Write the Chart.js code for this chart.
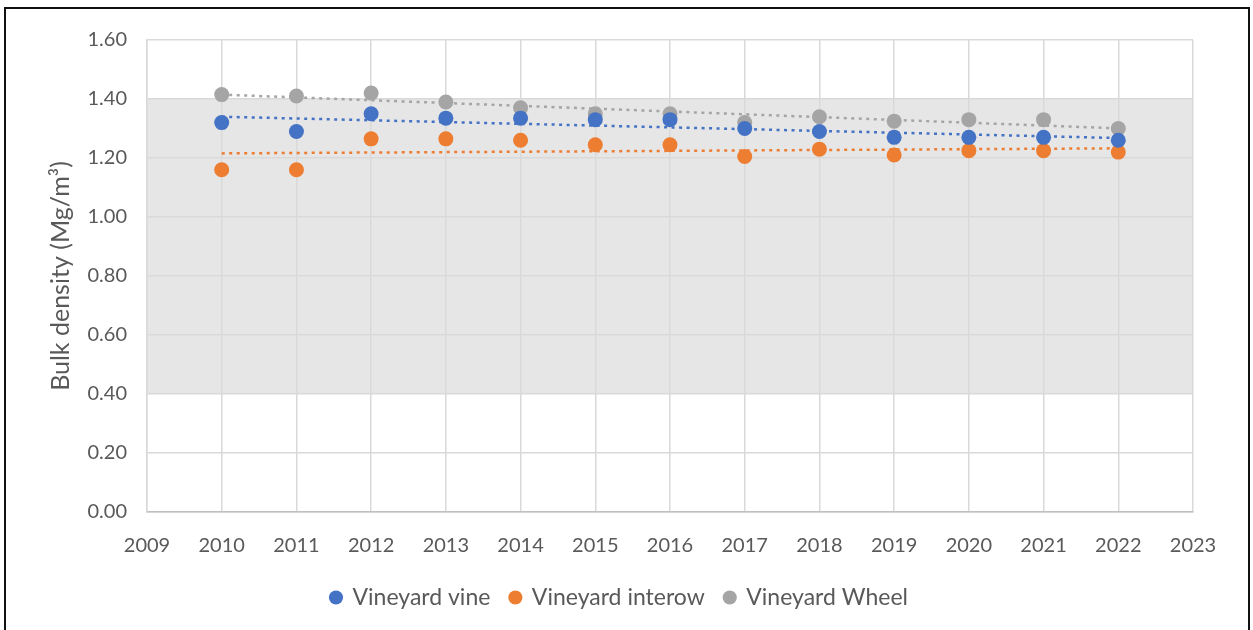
<!DOCTYPE html>
<html>
<head>
<meta charset="utf-8">
<script src="https://cdn.jsdelivr.net/npm/chart.js@4"></script>
<style>
  body { margin: 0; background: #fff; }
  #wrap { position: relative; width: 1253px; height: 630px; overflow: hidden; }
  #frame { position: absolute; left: 4px; top: 7px; width: 1242px; height: 640px; border: 2px solid #111; }
  canvas { position: absolute; left: 0; top: 0; }
</style>
</head>
<body>
<div id="wrap">
  <div id="frame"></div>
  <canvas id="myChart" width="1253" height="630"></canvas>
</div>
<script>
const years = [2010, 2011, 2012, 2013, 2014, 2015, 2016, 2017, 2018, 2019, 2020, 2021, 2022];
const vine = [1.32, 1.29, 1.35, 1.335, 1.335, 1.33, 1.33, 1.30, 1.29, 1.27, 1.27, 1.27, 1.26];
const interow = [1.16, 1.16, 1.265, 1.265, 1.26, 1.245, 1.245, 1.205, 1.23, 1.21, 1.225, 1.225, 1.22];
const wheel = [1.415, 1.41, 1.42, 1.39, 1.37, 1.35, 1.35, 1.32, 1.34, 1.325, 1.33, 1.33, 1.30];
const seriesNames = ['Vineyard vine', 'Vineyard interow', 'Vineyard Wheel'];
const seriesColors = ['#4472C4', '#ED7D31', '#A5A5A5'];
const bandLow = 0.40;
const bandHigh = 1.40;

// least squares trendline, like Excel's linear trendline
function trend(ys) {
    let n = years.length, sx = 0, sy = 0, sxx = 0, sxy = 0;
    for (let i = 0; i < n; i++) {
        sx += years[i]; sy += ys[i];
        sxx += years[i] * years[i]; sxy += years[i] * ys[i];
    }
    let b = (n * sxy - sx * sy) / (n * sxx - sx * sx);
    let a = (sy - b * sx) / n;
    let x0 = years[0], x1 = years[n - 1];
    return [{x: x0, y: a + b * x0}, {x: x1, y: a + b * x1}];
}

const allSeries = [vine, interow, wheel];
const datasets = [];
allSeries.forEach((ys, i) => {
    datasets.push({
        label: seriesNames[i] + ' trend',
        data: trend(ys),
        showLine: true,
        borderColor: seriesColors[i],
        borderWidth: 2.5,
        borderDash: [3, 4.5],
        pointRadius: 0,
        isTrend: true,
        order: 2,
    });
});
// points are drawn after trendlines
allSeries.forEach((ys, i) => {
    datasets.push({
        label: seriesNames[i],
        data: years.map((y, k) => ({x: y, y: ys[k]})),
        showLine: false,
        backgroundColor: seriesColors[i],
        borderColor: seriesColors[i],
        pointRadius: 7.5,
        pointBorderWidth: 0,
        order: 1,
    });
});

const bandPlugin = {
    id: 'band',
    beforeDraw(chart) {
        const {ctx, chartArea, scales} = chart;
        const top = scales.y.getPixelForValue(bandHigh);
        const bottom = scales.y.getPixelForValue(bandLow);
        ctx.save();
        ctx.fillStyle = '#E6E6E6';
        ctx.fillRect(chartArea.left, top, chartArea.right - chartArea.left, bottom - top);
        ctx.restore();
    }
};

const ctx = document.getElementById('myChart');
Chart.defaults.font.family = 'Lato, "Open Sans", sans-serif';
Chart.defaults.color = '#595959';

let myChart = new Chart(ctx, {
    type: 'scatter',
    data: { datasets: datasets },
    plugins: [bandPlugin],
    options: {
        responsive: false,
        animation: false,
        layout: { padding: { left: 46, right: 60, top: 40, bottom: 11 } },
        plugins: {
            tooltip: { enabled: false },
            legend: {
                position: 'bottom',
                labels: {
                    usePointStyle: true,
                    boxWidth: 10,
                    boxHeight: 10,
                    padding: 20,
                    font: { size: 23 },
                    color: '#595959',
                    filter: item => !datasets[item.datasetIndex].isTrend,
                    sort: (a, b) => a.datasetIndex - b.datasetIndex,
                },
            },
        },
        scales: {
            x: {
                type: 'linear',
                min: 2009,
                max: 2023,
                grid: { color: '#D9D9D9', lineWidth: 1.5, drawTicks: false },
                border: { color: '#BFBFBF', width: 1.5 },
                ticks: {
                    stepSize: 1,
                    padding: 22,
                    font: { size: 20 },
                    callback: v => String(v),
                },
                afterFit: s => { s.height = 54; },
            },
            y: {
                min: 0,
                max: 1.6,
                grid: { color: '#D9D9D9', lineWidth: 1.5, drawTicks: false },
                border: { color: '#D9D9D9', width: 1.5 },
                ticks: {
                    stepSize: 0.2,
                    padding: 20,
                    font: { size: 20 },
                    callback: v => v.toFixed(2),
                },
                title: {
                    display: true,
                    text: 'Bulk density (Mg/m³)',
                    font: { size: 25 },
                    color: '#595959',
                    padding: 0,
                },
                afterFit: s => { s.width = 101; },
            },
        },
    },
});
</script>
</body>
</html>
